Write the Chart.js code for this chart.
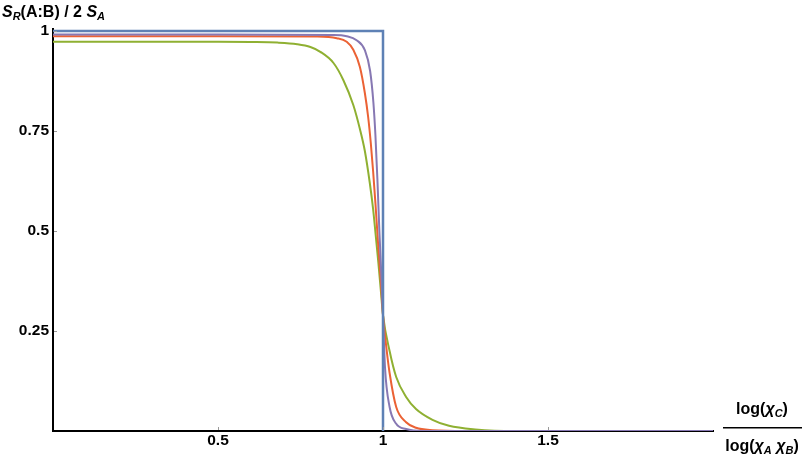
<!DOCTYPE html>
<html>
<head>
<meta charset="utf-8">
<title>S_R(A:B) / 2 S_A</title>
<script src="https://cdn.jsdelivr.net/npm/chart.js@4/dist/chart.umd.min.js"></script>
<style>
  html, body { margin: 0; padding: 0; background: #fff; }
  canvas { display: block; }
</style>
</head>
<body>
<canvas id="myChart" width="805" height="457"></canvas>
<script>
"use strict";

// step curve (blue)
var stepX = [0, 1, 1];
var stepY = [1, 1, 0];

// purple curve
var purpleX = [0, 0.5, 0.85, 0.89, 0.92, 0.945, 0.961, 0.971, 0.977, 0.983, 0.989, 0.995, 1.0, 1.006, 1.02, 1.04, 1.07, 1.12, 2];
var purpleY = [0.991, 0.991, 0.99, 0.987, 0.977, 0.952, 0.90, 0.82, 0.74, 0.63, 0.50, 0.39, 0.29, 0.16, 0.06, 0.018, 0.005, 0, 0];

// orange curve
var orangeX = [0, 0.5, 0.8, 0.86, 0.89, 0.91, 0.93, 0.945, 0.955, 0.963, 0.97, 0.977, 0.985, 0.993, 1.0, 1.01, 1.02, 1.04, 1.07, 1.1, 1.15, 1.25, 2];
var orangeY = [0.987, 0.987, 0.986, 0.982, 0.973, 0.953, 0.91, 0.845, 0.785, 0.72, 0.65, 0.57, 0.47, 0.38, 0.29, 0.21, 0.145, 0.06, 0.022, 0.008, 0.002, 0, 0];

// green curve
var greenX = [0, 0.5, 0.6, 0.68, 0.74, 0.78, 0.81, 0.85, 0.88, 0.91, 0.93, 0.945, 0.96, 0.97, 0.979, 0.986, 0.993, 1.0, 1.02, 1.04, 1.07, 1.1, 1.15, 1.2, 1.28, 1.4, 2];
var greenY = [0.973, 0.973, 0.9725, 0.971, 0.967, 0.96, 0.948, 0.92, 0.877, 0.815, 0.755, 0.70, 0.62, 0.555, 0.48, 0.42, 0.355, 0.29, 0.2, 0.135, 0.085, 0.055, 0.028, 0.013, 0.004, 0, 0];

var xTickValues = [0.5, 1, 1.5];
var yTickValues = [0.25, 0.5, 0.75, 1];

var FONT = "'Liberation Sans', Arial, sans-serif";

function toPoints(xs, ys) {
  var pts = [];
  for (var i = 0; i < xs.length; i++) {
    pts.push({x: xs[i], y: ys[i]});
  }
  return pts;
}

function series(xs, ys, color, width, smooth) {
  return {
    data: toPoints(xs, ys),
    borderColor: color,
    borderWidth: width,
    pointRadius: 0,
    fill: false,
    showLine: true,
    tension: 0,
    cubicInterpolationMode: smooth ? 'monotone' : 'default'
  };
}

function drawPieces(ctx, parts, x, base, centered) {
  if (centered) {
    var total = 0;
    parts.forEach(function(p) {
      ctx.font = p.f;
      total += ctx.measureText(p.t).width;
    });
    x = x - total / 2;
  }
  parts.forEach(function(p) {
    ctx.font = p.f;
    ctx.fillText(p.t, x, base + p.dy);
    x += ctx.measureText(p.t).width;
  });
}

// little inward tick marks + axis labels
var decorations = {
  id: 'decorations',
  afterDraw: function(chart) {
    var ctx = chart.ctx;
    var xs = chart.scales.x, ys = chart.scales.y;
    var area = chart.chartArea;
    ctx.save();
    ctx.strokeStyle = '#9a9a9a';
    ctx.lineWidth = 1;
    ctx.beginPath();
    xTickValues.forEach(function(v) {
      var px = Math.round(xs.getPixelForValue(v)) + 0.5;
      ctx.moveTo(px, area.bottom - 1);
      ctx.lineTo(px, area.bottom - 4);
    });
    yTickValues.forEach(function(v) {
      var py = Math.round(ys.getPixelForValue(v)) + 0.5;
      ctx.moveTo(area.left + 1, py);
      ctx.lineTo(area.left + 4, py);
    });
    ctx.stroke();

    ctx.fillStyle = '#000';
    ctx.textBaseline = 'alphabetic';
    ctx.textAlign = 'left';
    var big = 'bold 16px ' + FONT, bigIt = 'italic bold 16px ' + FONT, sub = 'italic bold 11px ' + FONT;

    // y label: S_R(A:B) / 2 S_A
    drawPieces(ctx, [
      {t: 'S', f: bigIt, dy: 0},
      {t: 'R', f: sub, dy: 3},
      {t: '(A:B) / 2 ', f: big, dy: 0},
      {t: 'S', f: bigIt, dy: 0},
      {t: 'A', f: sub, dy: 3}
    ], 2, 17, false);

    // x label: log(chi_C) / log(chi_A chi_B)
    var cx = 762;
    drawPieces(ctx, [
      {t: 'log(', f: big, dy: 0},
      {t: 'χ', f: bigIt, dy: 0},
      {t: 'C', f: sub, dy: 3},
      {t: ')', f: big, dy: 0}
    ], cx, 414, true);
    ctx.fillRect(723, 427, 79, 1.5);
    drawPieces(ctx, [
      {t: 'log(', f: big, dy: 0},
      {t: 'χ', f: bigIt, dy: 0},
      {t: 'A', f: sub, dy: 3},
      {t: ' ', f: big, dy: 0},
      {t: 'χ', f: bigIt, dy: 0},
      {t: 'B', f: sub, dy: 3},
      {t: ')', f: big, dy: 0}
    ], cx, 451, true);
    ctx.restore();
  }
};

var ctx = document.getElementById('myChart').getContext('2d');
var chart = new Chart(ctx, {
  type: 'scatter',
  data: {
    datasets: [
      series(stepX, stepY, '#5E81B5', 2.5, false),
      series(purpleX, purpleY, '#8778B3', 2, true),
      series(orangeX, orangeY, '#EB6235', 2, true),
      series(greenX, greenY, '#8FB032', 2, true)
    ]
  },
  options: {
    responsive: false,
    animation: false,
    layout: {padding: {top: 29, right: 92, left: 0, bottom: 0}},
    plugins: {legend: {display: false}, tooltip: {enabled: false}},
    scales: {
      x: {
        type: 'linear',
        min: 0,
        max: 2,
        grid: {display: false, drawTicks: false},
        border: {display: true, color: '#000', width: 2},
        afterBuildTicks: function(scale) {
          scale.ticks = xTickValues.map(function(v) { return {value: v}; });
        },
        afterFit: function(scale) { scale.height = 26; },
        ticks: {
          color: '#000',
          padding: 0,
          maxRotation: 0,
          font: {family: FONT, size: 15.5, weight: 'bold'},
          callback: function(v) { return String(v); }
        }
      },
      y: {
        type: 'linear',
        min: 0,
        max: 1.005,
        grid: {display: false, drawTicks: false},
        border: {display: true, color: '#000', width: 2},
        afterBuildTicks: function(scale) {
          scale.ticks = yTickValues.map(function(v) { return {value: v}; });
        },
        afterFit: function(scale) { scale.width = 53; },
        ticks: {
          color: '#000',
          padding: 4,
          font: {family: FONT, size: 15.5, weight: 'bold'},
          callback: function(v) { return String(v); }
        }
      }
    }
  },
  plugins: [decorations]
});
</script>
</body>
</html>
